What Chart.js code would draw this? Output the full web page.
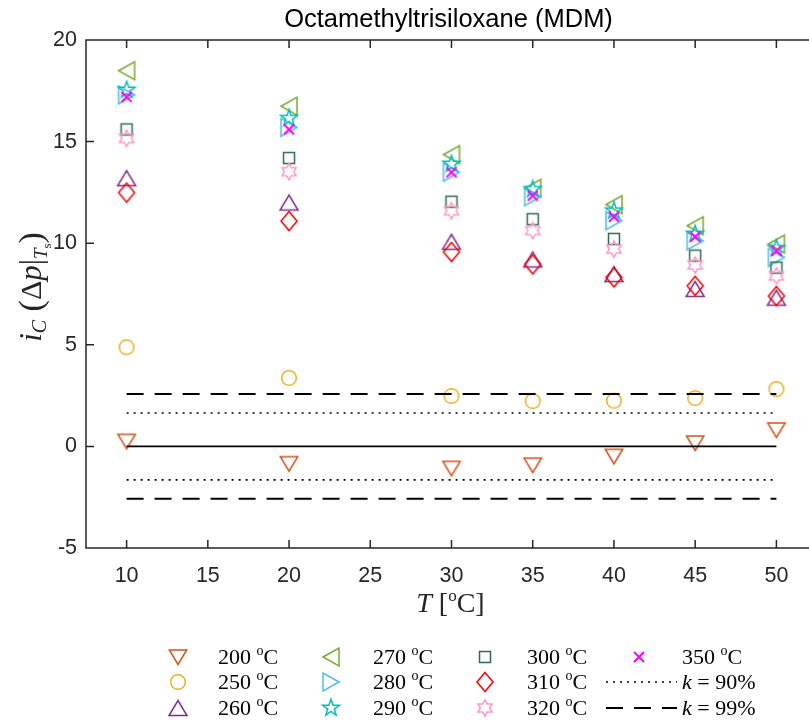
<!DOCTYPE html>
<html>
<head>
<meta charset="utf-8">
<title>Octamethyltrisiloxane (MDM)</title>
<script src="https://cdn.jsdelivr.net/npm/chart.js@4.4.1/dist/chart.umd.min.js"></script>
<style>
  html, body { margin: 0; padding: 0; background: #fff; overflow: hidden; }
  #icChart { display: block; }
</style>
</head>
<body>
<canvas id="icChart" width="828" height="724"></canvas>
<script>
// measured temperatures and the index for each saturation temperature
const temps = [10, 20, 30, 35, 40, 45, 50];
const ic200 = [0.25, -0.85, -1.08, -0.92, -0.49, 0.17, 0.81];
const ic250 = [4.88, 3.37, 2.48, 2.23, 2.25, 2.38, 2.82];
const ic260 = [13.2, 12.0, 10.07, 9.2, 8.48, 7.75, 7.32];
const ic270 = [18.49, 16.74, 14.36, 12.7, 11.9, 10.86, 9.96];
const ic280 = [17.3, 15.7, 13.49, 12.29, 11.11, 10.12, 9.3];
const ic290 = [17.54, 16.15, 13.9, 12.65, 11.6, 10.45, 9.75];
const ic300 = [15.6, 14.19, 12.04, 11.18, 10.21, 9.39, 8.8];
const ic310 = [12.49, 11.09, 9.57, 8.96, 8.32, 7.9, 7.4];
const ic320 = [15.16, 13.52, 11.6, 10.62, 9.71, 8.93, 8.39];
const ic350 = [17.2, 15.6, 13.49, 12.34, 11.3, 10.32, 9.62];

// coverage limits
const k90 = 1.645;
const k99 = 2.576;
const limitSpan = [10, 50];

const xTicks = [10, 15, 20, 25, 30, 35, 40, 45, 50];
const yTicks = [-5, 0, 5, 10, 15, 20];

const axisColor = '#262626';
const serif = '"Liberation Serif", "DejaVu Serif", serif';
const sans = '"Liberation Sans", Arial, sans-serif';

// little canvases used as point styles
function makeMarker(color, draw, width) {
    const c = document.createElement('canvas');
    c.width = 24;
    c.height = 24;
    const g = c.getContext('2d');
    g.strokeStyle = color;
    g.lineWidth = width || 1.5;
    g.beginPath();
    draw(g);
    g.stroke();
    return c;
}

function poly(pts) {
    return g => {
        g.moveTo(pts[0][0], pts[0][1]);
        pts.slice(1).forEach(p => g.lineTo(p[0], p[1]));
        g.closePath();
    };
}

function starPts(n, outer, inner) {
    const pts = [];
    for (let k = 0; k < 2 * n; k++) {
        const r = k % 2 ? inner : outer;
        const a = -Math.PI / 2 + k * Math.PI / n;
        pts.push([12 + r * Math.cos(a), 12 + r * Math.sin(a)]);
    }
    return pts;
}

const shapes = {
    down: poly([[3.3, 5], [20.7, 5], [12, 19.5]]),
    up: poly([[3, 19.5], [21, 19.5], [12, 4.5]]),
    left: poly([[4, 12], [20, 3], [20, 21]]),
    right: poly([[20, 12], [4, 3], [4, 21]]),
    circle: g => g.arc(12, 12, 7.3, 0, 2 * Math.PI),
    square: g => g.rect(6.5, 6.5, 11, 11),
    diamond: poly([[12, 2.5], [20, 12], [12, 21.5], [4, 12]]),
    cross: g => { g.moveTo(7, 7); g.lineTo(17, 17); g.moveTo(17, 7); g.lineTo(7, 17); },
    star: poly(starPts(5, 8.8, 3.5)),
    hexagram: poly(starPts(6, 8.2, 4.7))
};

const series = [
    { label: '200', values: ic200, color: '#D95319', shape: 'down' },
    { label: '250', values: ic250, color: '#EDB120', shape: 'circle' },
    { label: '260', values: ic260, color: '#7E2F8E', shape: 'up' },
    { label: '270', values: ic270, color: '#77AC30', shape: 'left' },
    { label: '280', values: ic280, color: '#4DBEEE', shape: 'right' },
    { label: '290', values: ic290, color: '#00BFBF', shape: 'star' },
    { label: '300', values: ic300, color: '#2E6B4E', shape: 'square' },
    { label: '310', values: ic310, color: '#FF0000', shape: 'diamond' },
    { label: '320', values: ic320, color: '#FF99CC', shape: 'hexagram' },
    { label: '350', values: ic350, color: '#FF00FF', shape: 'cross' }
];

series.forEach(s => {
    s.marker = makeMarker(s.color, shapes[s.shape], s.shape == 'cross' ? 2 : 1.5);
});

function limitLine(level, dash, width) {
    return {
        type: 'line',
        data: limitSpan.map(t => ({ x: t, y: level })),
        borderColor: '#000',
        borderWidth: width,
        borderDash: dash,
        pointRadius: 0,
        showLine: true,
        order: 0
    };
}

const datasets = series.map((s, i) => ({
    label: s.label + ' °C',
    data: temps.map((t, j) => ({ x: t, y: s.values[j] })),
    pointStyle: s.marker,
    pointRadius: 10,
    showLine: false,
    order: series.length - i
}));
datasets.push(limitLine(0, [], 1.8));
datasets.push(limitLine(k90, [2, 5], 1.6));
datasets.push(limitLine(-k90, [2, 5], 1.6));
datasets.push(limitLine(k99, [17, 11], 2));
datasets.push(limitLine(-k99, [17, 11], 2));

// draws a run of text pieces (italics, sub/superscripts) one after another
function drawPieces(ctx, pieces, x, y, align) {
    let w = 0;
    pieces.forEach(p => { ctx.font = p.font; w += ctx.measureText(p.t).width; });
    let cx = align == 'center' ? x - w / 2 : x;
    pieces.forEach(p => {
        ctx.font = p.font;
        ctx.fillText(p.t, cx, y + (p.dy || 0));
        cx += ctx.measureText(p.t).width;
    });
}

function degreeLabel(t) {
    return [
        { t: t + ' ', font: '22px ' + serif },
        { t: 'o', font: '14px ' + serif, dy: -9 },
        { t: 'C', font: '22px ' + serif }
    ];
}

const legendCols = [
    { marker: 178, text: 218 },
    { marker: 331, text: 373 },
    { marker: 485, text: 527 },
    { marker: 639, text: 682 }
];
const legendRows = [657, 682, 708];

const decorations = {
    id: 'decorations',
    beforeDraw(chart) {
        const ctx = chart.ctx;
        ctx.save();
        ctx.fillStyle = '#fff';
        ctx.fillRect(0, 0, chart.width, chart.height);
        ctx.restore();
    },
    afterDraw(chart) {
        const ctx = chart.ctx;
        const a = chart.chartArea;
        const x = chart.scales.x;
        const y = chart.scales.y;
        ctx.save();

        // box and inward ticks
        ctx.strokeStyle = axisColor;
        ctx.lineWidth = 1.5;
        ctx.beginPath();
        ctx.rect(a.left, a.top, a.right - a.left, a.bottom - a.top);
        xTicks.forEach(v => {
            const px = x.getPixelForValue(v);
            ctx.moveTo(px, a.bottom);
            ctx.lineTo(px, a.bottom - 8);
            ctx.moveTo(px, a.top);
            ctx.lineTo(px, a.top + 8);
        });
        yTicks.forEach(v => {
            const py = y.getPixelForValue(v);
            ctx.moveTo(a.left, py);
            ctx.lineTo(a.left + 8, py);
            ctx.moveTo(a.right, py);
            ctx.lineTo(a.right - 8, py);
        });
        ctx.stroke();

        // title
        const mid = (a.left + a.right) / 2;
        ctx.fillStyle = '#000';
        ctx.textBaseline = 'alphabetic';
        ctx.font = '25.5px ' + sans;
        ctx.textAlign = 'center';
        ctx.fillText('Octamethyltrisiloxane (MDM)', mid - 3, 27);

        // axis titles
        ctx.textAlign = 'left';
        ctx.fillStyle = axisColor;
        drawPieces(ctx, [
            { t: 'T', font: 'italic 28px ' + serif },
            { t: ' [', font: '28px ' + serif },
            { t: 'o', font: '17px ' + serif, dy: -11 },
            { t: 'C]', font: '28px ' + serif }
        ], mid - 1, 612, 'center');

        ctx.save();
        ctx.translate(41, 287);
        ctx.rotate(-Math.PI / 2);
        drawPieces(ctx, [
            { t: 'i', font: 'italic 31px ' + serif },
            { t: 'C', font: 'italic 20px ' + serif, dy: 5 },
            { t: ' (', font: '34px ' + serif, dy: 1 },
            { t: 'Δ', font: '30px ' + serif },
            { t: 'p', font: 'italic 31px ' + serif },
            { t: '|', font: '31px ' + serif },
            { t: 'T', font: 'italic 19px ' + serif, dy: 6 },
            { t: 's', font: '13px ' + serif, dy: 10 },
            { t: ')', font: '34px ' + serif, dy: 1 }
        ], 0, 0, 'center');
        ctx.restore();

        // legend, filled column by column
        ctx.fillStyle = '#000';
        const entries = series.map(s => ({ marker: s.marker, text: degreeLabel(s.label) }));
        entries.push({ dash: [2, 5], width: 1.6, text: [{ t: 'k', font: 'italic 22px ' + serif }, { t: ' = 90%', font: '22px ' + serif }] });
        entries.push({ dash: [17, 11], width: 2, text: [{ t: 'k', font: 'italic 22px ' + serif }, { t: ' = 99%', font: '22px ' + serif }] });
        entries.forEach((e, i) => {
            const col = legendCols[Math.floor(i / 3)];
            const ry = legendRows[i % 3];
            if (e.marker) {
                ctx.drawImage(e.marker, col.marker - 12, ry - 12);
            } else {
                ctx.strokeStyle = '#000';
                ctx.lineWidth = e.width;
                ctx.setLineDash(e.dash);
                ctx.beginPath();
                ctx.moveTo(606, ry);
                ctx.lineTo(677, ry);
                ctx.stroke();
                ctx.setLineDash([]);
            }
            drawPieces(ctx, e.text, col.text, ry + 7, 'left');
        });

        ctx.restore();
    }
};

new Chart(document.getElementById('icChart').getContext('2d'), {
    type: 'scatter',
    data: { datasets: datasets },
    options: {
        responsive: false,
        animation: false,
        devicePixelRatio: 1,
        layout: { padding: { top: 40, right: 4.5, bottom: 136, left: 0 } },
        plugins: {
            legend: { display: false },
            title: { display: false },
            tooltip: { enabled: false }
        },
        scales: {
            x: {
                type: 'linear',
                min: 7.5,
                max: 52.5,
                afterBuildTicks: scale => { scale.ticks = xTicks.map(v => ({ value: v })); },
                afterFit: scale => { scale.height = 40; },
                grid: { display: false, drawTicks: false },
                border: { display: false },
                ticks: { color: axisColor, font: { family: sans, size: 21.5 }, padding: 15, maxRotation: 0 }
            },
            y: {
                min: -5,
                max: 20,
                afterBuildTicks: scale => { scale.ticks = yTicks.map(v => ({ value: v })); },
                afterFit: scale => { scale.width = 86; },
                grid: { display: false, drawTicks: false },
                border: { display: false },
                ticks: { color: axisColor, font: { family: sans, size: 21.5 }, padding: 9 }
            }
        }
    },
    plugins: [decorations]
});
</script>
</body>
</html>
